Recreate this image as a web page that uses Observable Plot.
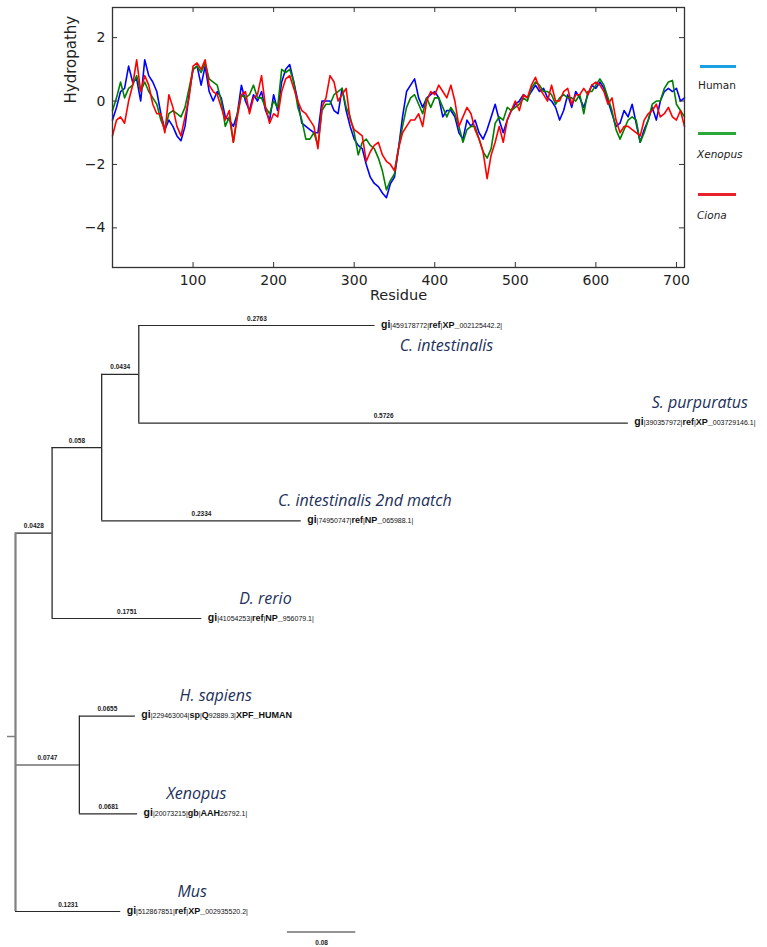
<!DOCTYPE html>
<html><head><meta charset="utf-8">
<script src="https://cdn.jsdelivr.net/npm/d3@7"></script>
<script src="https://cdn.jsdelivr.net/npm/@observablehq/plot@0.6"></script>
<style>
body{margin:0;background:#fff;}
#wrap{position:relative;width:767px;height:947px;overflow:hidden;background:#fff;}
#top{position:absolute;left:0;top:0;}
#tree{position:absolute;left:0;top:310px;}
.leg{position:absolute;font-family:"DejaVu Sans";font-size:10.5px;color:#222;line-height:12px;white-space:nowrap;}
.sw{position:absolute;height:3px;}
</style></head><body>
<div id="wrap"><div id="top"></div><div id="tree"></div><div id="legend"></div></div>
<script>
// ---------- Hydropathy data (sampled every 5 residues) ----------
const residues = d3.range(0, 711, 5);
const seriesNames = ["Human", "Xenopus", "Ciona"];
const human = [
-0.6,-0.2,0.3,0.4,1.1,0.6,0.7,0.0,1.3,0.8,
0.6,0.3,-0.4,-0.9,-0.6,-0.8,-1.1,-1.25,-0.8,0.2,
1.0,1.1,0.5,1.1,0.3,0.0,0.3,0.1,-0.5,-0.6,
-0.8,-0.4,0.5,0.0,-0.3,0.2,0.0,0.3,-0.3,-0.6,
0.2,-0.3,0.6,1.0,1.15,0.6,0.0,-0.7,-0.8,-0.9,
-1.0,-1.0,0.0,0.0,0.0,-0.3,-0.4,0.4,-0.3,-0.8,
-1.2,-1.4,-1.5,-2.0,-2.4,-2.6,-2.7,-2.9,-3.05,-2.6,
-2.4,-1.5,-0.5,0.3,0.5,0.7,0.1,-0.2,0.1,0.2,
0.3,0.1,-0.5,-0.3,-0.3,-0.5,-1.0,-1.2,-0.6,-0.8,
-0.6,-1.0,-1.2,-0.9,-0.5,-0.1,-0.6,-1.0,-0.6,-0.3,
-0.1,0.0,0.2,0.1,0.3,0.5,0.3,0.4,0.1,0.0,
-0.2,-0.6,-0.3,0.2,-0.2,0.3,0.1,-0.2,0.2,0.5,
0.4,0.6,0.4,0.0,-0.4,-0.8,-0.7,-0.3,-0.5,-0.1,
-0.7,-1.3,-0.9,-0.6,-0.2,-0.6,0.0,0.3,0.4,0.3,
0.4,0.0,0.1];
const xenopus = [
-0.3,0.1,0.6,0.1,0.4,0.5,0.8,0.3,0.6,0.3,
0.1,-0.1,-0.6,-0.9,-0.4,-0.3,-0.4,-0.5,-0.2,0.4,
1.0,1.1,0.9,1.2,0.7,0.6,0.5,0.0,-0.8,-0.5,
-1.3,-0.4,0.2,0.1,0.2,0.5,0.1,0.1,-0.2,-0.4,
0.0,-0.2,1.0,0.9,1.0,0.6,-0.2,-0.6,-1.2,-1.2,
-1.0,-1.4,-0.3,-0.1,-0.1,0.2,0.3,0.4,-0.2,-0.5,
-1.0,-1.7,-1.3,-1.2,-1.4,-1.5,-1.8,-2.2,-2.8,-2.5,
-2.3,-1.5,-0.8,-0.2,0.1,0.2,-0.1,-0.4,0.1,-0.2,
0.1,0.1,-0.2,-0.5,-0.2,-0.4,-0.8,-1.3,-0.9,-0.8,
-0.8,-1.2,-1.6,-1.8,-1.5,-0.7,-0.5,-0.6,-0.2,-0.3,
-0.2,-0.1,0.1,0.0,0.4,0.6,0.5,0.3,0.3,0.2,
-0.1,0.1,0.2,0.1,0.1,0.0,0.2,-0.4,0.3,0.3,
0.5,0.7,0.5,0.1,-0.3,-0.9,-1.2,-0.9,-0.6,-0.5,
-0.6,-1.3,-1.0,-0.6,-0.1,0.0,0.0,0.4,0.6,0.65,
-0.1,-0.3,-0.5];
const ciona = [
-1.1,-0.6,-0.5,-0.7,0.0,0.5,1.3,0.3,0.8,0.5,
-0.1,-0.4,-0.4,-1.0,0.2,-0.2,-0.8,-1.1,-0.5,0.1,
1.1,1.2,1.0,1.3,0.5,0.3,0.2,-0.2,-0.6,-0.3,
-1.3,-0.5,0.2,0.3,-0.4,0.1,0.2,0.8,-0.2,-0.7,
-0.4,-0.5,0.3,0.7,0.8,0.4,0.0,-0.3,-0.4,-0.6,
-0.8,-1.5,-0.2,0.1,0.8,0.6,0.0,0.2,0.4,-0.6,
-0.9,-1.0,-1.1,-1.9,-1.6,-1.4,-1.3,-1.7,-1.9,-2.0,
-2.2,-1.5,-1.0,-0.8,-0.6,-0.6,-0.4,-0.8,0.0,0.3,
0.2,0.5,0.3,0.1,0.5,0.0,-0.8,-0.5,-0.2,-0.4,
-0.9,-1.2,-1.6,-2.45,-1.7,-1.3,-0.8,-1.3,-0.6,-0.3,
0.0,-0.3,0.2,0.1,0.5,0.75,0.4,0.2,0.0,0.5,
0.0,0.0,0.3,0.4,-0.1,0.2,0.2,0.4,0.2,0.5,
0.6,0.5,0.3,-0.1,0.1,-0.6,-1.0,-0.8,-0.8,-0.9,
-1.0,-1.1,-0.6,-0.4,-0.3,-0.1,-0.5,-0.4,-0.2,-0.5,
-0.6,-0.3,-0.8];
const seriesValues = [human, xenopus, ciona];
const xTicks = [100, 200, 300, 400, 500, 600, 700];
const yTicks = [2, 0, -2, -4];
const xLabel = "Residue";
const yLabel = "Hydropathy";

// ---------- Tree data ----------
const leafNames = ["C. intestinalis", "S. purpuratus", "C. intestinalis 2nd match", "D. rerio", "H. sapiens", "Xenopus", "Mus"];
const leafIds = [
  "gi|459178772|ref|XP_002125442.2|",
  "gi|390357972|ref|XP_003729146.1|",
  "gi|74950747|ref|NP_065988.1|",
  "gi|41054253|ref|NP_956079.1|",
  "gi|229463004|sp|Q92889.3|XPF_HUMAN",
  "gi|20073215|gb|AAH26792.1|",
  "gi|512867851|ref|XP_002935520.2|"];
const namePlacement = ["below", "above", "above", "above", "above", "above", "above"];
const edgeParent = ["C", "C", "B", "B", "A", "A", "root", "HX", "HX", "root", "root"];
const edgeChild = ["C. intestinalis", "S. purpuratus", "C. intestinalis 2nd match", "C", "B", "D. rerio", "A", "H. sapiens", "Xenopus", "HX", "Mus"];
const edgeLength = [0.2763, 0.5726, 0.2334, 0.0434, 0.058, 0.1751, 0.0428, 0.0655, 0.0681, 0.0747, 0.1231];
const scaleBarLength = 0.08;

// ---------- Top chart ----------
const lineColors = ["#0000ff", "#008000", "#ff0000"];
const legendColors = ["#1ba1e2", "#2ca83a", "#e8222b"];
const legendItalic = [false, true, true];

const hydroRows = [];
seriesNames.forEach((name, k) => residues.forEach((r, i) => hydroRows.push({series: name, residue: r, value: seriesValues[k][i]})));

const W = 767, H1 = 310, mL = 112, mR = 83, mT = 7, mB = 43;
const fw = W - mL - mR, fh = H1 - mT - mB;
const topChart = Plot.plot({
  width: W, height: H1,
  marginLeft: mL, marginRight: mR, marginTop: mT, marginBottom: mB,
  style: {fontFamily: "DejaVu Sans", fontSize: "14px", color: "#222", background: "white"},
  x: {domain: [0, 710], label: null},
  y: {domain: [-5.25, 2.95], label: null},
  color: {domain: seriesNames, range: lineColors},
  marks: [
    Plot.line(hydroRows, {x: "residue", y: "value", z: "series", stroke: "series", strokeWidth: 1.6}),
    Plot.frame({stroke: "#333", strokeWidth: 1.3}),
    Plot.tickY(yTicks, {y: d => d, insetRight: fw - 5, stroke: "#333"}),
    Plot.tickY(yTicks, {y: d => d, insetLeft: fw - 5, stroke: "#333"}),
    Plot.tickX(xTicks, {x: d => d, insetTop: fh - 5, stroke: "#333"}),
    Plot.tickX(xTicks, {x: d => d, insetBottom: fh - 5, stroke: "#333"}),
    Plot.axisX({ticks: xTicks, tickSize: 0, tickPadding: 8, label: null, fontSize: 14}),
    Plot.axisY({ticks: yTicks, tickSize: 0, tickPadding: 7, label: null, fontSize: 14}),
    Plot.text([xLabel], {frameAnchor: "bottom", dy: 32, fontSize: 14.5, text: d => d, fill: "#222"}),
    Plot.text([yLabel], {frameAnchor: "left", dx: -41, dy: -34, rotate: -90, fontSize: 15, text: d => d, fill: "#222"})
  ]
});
document.getElementById("top").appendChild(topChart);

// legend (HTML, placed in the right margin)
const legend = document.getElementById("legend");
const legTops = [65, 132, 193];
seriesNames.forEach((name, i) => {
  const sw = document.createElement("div");
  sw.className = "sw";
  sw.style.left = (i === 0 ? 700 : 698) + "px";
  sw.style.width = (i === 0 ? 36 : 38) + "px";
  sw.style.top = legTops[i] + "px";
  sw.style.background = legendColors[i];
  legend.appendChild(sw);
  const lab = document.createElement("div");
  lab.className = "leg";
  lab.textContent = name;
  lab.style.left = (i === 0 ? 698 : 697) + "px";
  lab.style.top = (legTops[i] + 14 + (i === 0 ? 0 : 2)) + "px";
  if (legendItalic[i]) lab.style.fontStyle = "italic";
  legend.appendChild(lab);
});

// ---------- Tree layout (computed from the tree data) ----------
const children = {};
edgeParent.forEach((p, i) => { (children[p] = children[p] || []).push(i); });
const depth = {root: 0};
const yPos = {};
function walk(node) {
  (children[node] || []).forEach(i => { depth[edgeChild[i]] = depth[node] + edgeLength[i]; walk(edgeChild[i]); });
}
walk("root");
function ypos(node) {
  if (yPos[node] !== undefined) return yPos[node];
  const li = leafNames.indexOf(node);
  if (li >= 0) return (yPos[node] = li);
  const ys = children[node].map(i => ypos(edgeChild[i]));
  return (yPos[node] = d3.mean(ys));
}
ypos("root");
const internal = Object.keys(children).map(n => {
  const ys = children[n].map(i => yPos[edgeChild[i]]);
  return {name: n, depth: depth[n], y: yPos[n], y1: d3.min(ys), y2: d3.max(ys)};
});
const edges = edgeChild.map((c, i) => ({px: depth[edgeParent[i]], cx: depth[c], y: yPos[c], label: String(edgeLength[i])}));
const pxPerUnit = 855;
function giWidth(s) {
  let w = 0;
  for (const ch of s) w += /[0-9.]/.test(ch) ? 3.9 : ch === "|" ? 2 : 5.6;
  return w;
}
const leaves = leafNames.map((n, i) => ({name: n, id: leafIds[i], place: namePlacement[i], depth: depth[n], y: yPos[n],
  nameX: depth[n] + (6 + giWidth(leafIds[i]) / 2) / pxPerUnit}));
const rootNode = internal.filter(d => d.name === "root");
const otherNodes = internal.filter(d => d.name !== "root");
const scaleBar = [{x1: 0.318, x2: 0.318 + scaleBarLength, y: 6.21, label: String(scaleBarLength)}];

const H2 = 637;
const tinyFont = {fontFamily: "Liberation Sans", fontWeight: "bold", fontSize: 6.5, fill: "#222"};
const treeChart = Plot.plot({
  width: W, height: H2, margin: 0,
  style: {background: "white", fontFamily: "Liberation Sans"},
  x: {domain: [0, 0.8], range: [15, 15 + 0.8 * pxPerUnit], axis: null},
  y: {domain: [0, 6], range: [15, 601], axis: null},
  marks: [
    Plot.ruleY(edges, {y: "y", x1: "px", x2: "cx", stroke: "#2a2a2a", strokeWidth: 1.2}),
    Plot.ruleX(otherNodes, {x: "depth", y1: "y1", y2: "y2", stroke: "#2a2a2a", strokeWidth: 1.3}),
    Plot.ruleX(rootNode, {x: "depth", y1: "y1", y2: "y2", stroke: "#808080", strokeWidth: 2.2}),
    Plot.ruleY(rootNode, {y: "y", x1: d => d.depth - 8 / pxPerUnit, x2: "depth", stroke: "#808080", strokeWidth: 1.5}),
    Plot.text(edges, {x: d => (d.px + d.cx) / 2, y: "y", text: "label", dy: -7, ...tinyFont}),
    Plot.text(leaves, {x: "depth", y: "y", text: "id", dx: 6, textAnchor: "start", fontSize: 7, fontWeight: "bold", fill: "#111"}),
    Plot.text(leaves.filter(d => d.place === "above"), {x: "nameX", y: "y", text: "name", dy: -20, fontFamily: "Open Sans", fontStyle: "italic", fontSize: 16, fill: "#22305a"}),
    Plot.text(leaves.filter(d => d.place === "below"), {x: "nameX", y: "y", text: "name", dy: 20, fontFamily: "Open Sans", fontStyle: "italic", fontSize: 16, fill: "#22305a"}),
    Plot.ruleY(scaleBar, {y: "y", x1: "x1", x2: "x2", stroke: "#2a2a2a", strokeWidth: 1.2}),
    Plot.text(scaleBar, {x: d => (d.x1 + d.x2) / 2, y: "y", text: "label", dy: 11, ...tinyFont})
  ]
});
document.getElementById("tree").appendChild(treeChart);

// style the accession labels: letters bold & larger, numbers small
const NS = "http://www.w3.org/2000/svg";
treeChart.querySelectorAll("text").forEach(t => {
  const s = t.textContent;
  if (!s.startsWith("gi|")) return;
  t.textContent = "";
  const runs = s.match(/[0-9.]+|\||[^0-9.|]+/g);
  runs.forEach((r, i) => {
    const ts = document.createElementNS(NS, "tspan");
    ts.textContent = r;
    if (/^[0-9.]+$/.test(r)) { ts.setAttribute("font-size", "7"); ts.setAttribute("font-weight", "normal"); }
    else if (r === "|") { ts.setAttribute("font-size", "7"); ts.setAttribute("font-weight", "normal"); }
    else { ts.setAttribute("font-size", i === 0 ? "10.5" : "9"); ts.setAttribute("font-weight", "bold"); }
    t.appendChild(ts);
  });
});
</script>
</body></html>
